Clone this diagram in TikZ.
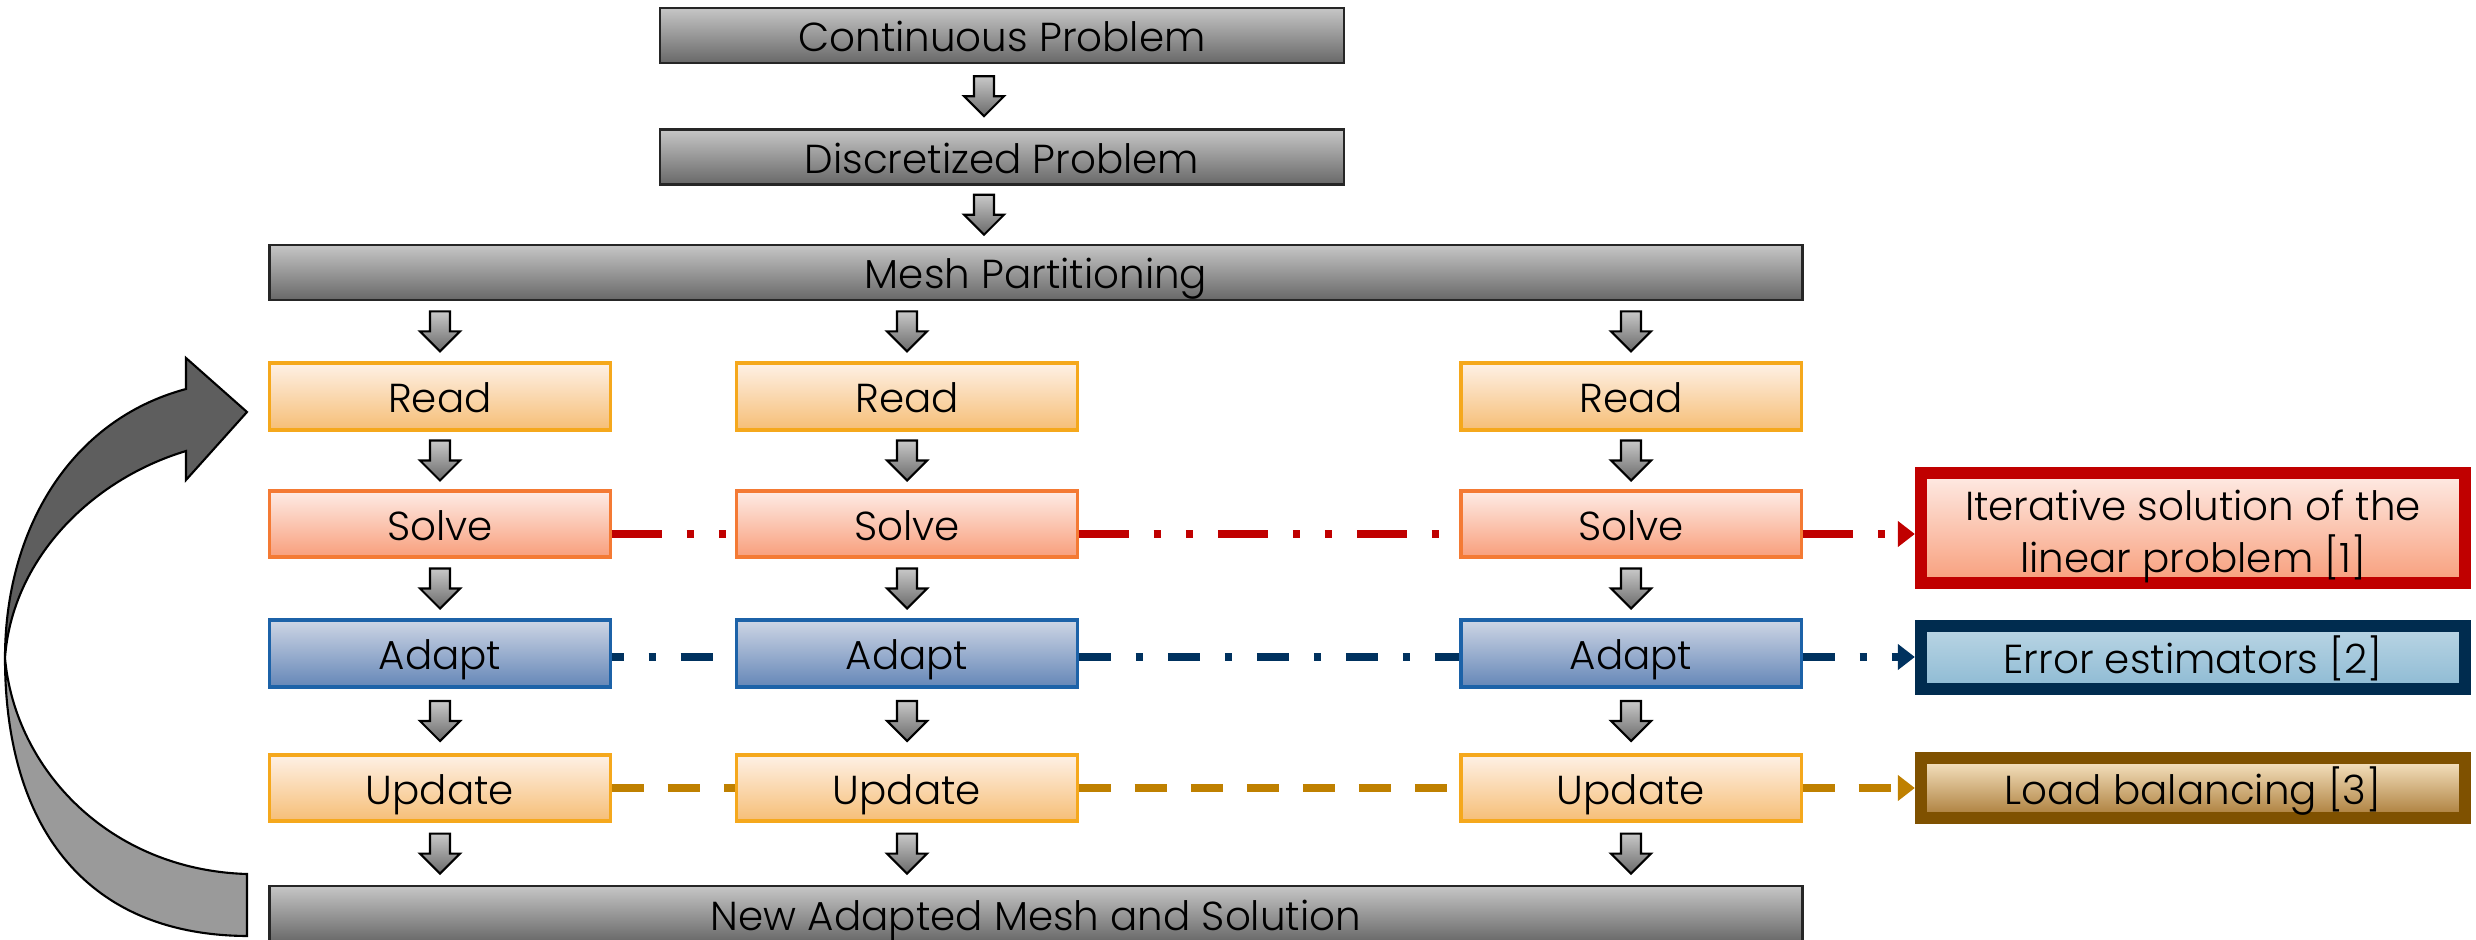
\documentclass[tikz,border=0pt]{standalone}
\usepackage{fontspec}
\setmainfont{Poppins Light}
\usetikzlibrary{arrows.meta,calc}
\definecolor{gT}{HTML}{C6C6C6}
\definecolor{gB}{HTML}{686868}
\definecolor{aT}{HTML}{C8C8C8}
\definecolor{aB}{HTML}{6A6A6A}
\definecolor{oT}{HTML}{FEF1E6}
\definecolor{oB}{HTML}{F6BE76}
\definecolor{oD}{HTML}{F5A81C}
\definecolor{rT}{HTML}{FEECE6}
\definecolor{rB}{HTML}{F89E7B}
\definecolor{rD}{HTML}{F47A34}
\definecolor{bT}{HTML}{CED6E5}
\definecolor{bB}{HTML}{6486B7}
\definecolor{bD}{HTML}{1C62A8}
\definecolor{lnRed}{HTML}{C00000}
\definecolor{lnBlue}{HTML}{00325F}
\definecolor{lnGold}{HTML}{BF8000}
\definecolor{eT}{HTML}{BBD6E5}
\definecolor{eB}{HTML}{8DBAD3}
\definecolor{eD}{HTML}{002C4F}
\definecolor{ldT}{HTML}{FAE8C8}
\definecolor{ldB}{HTML}{A97A36}
\definecolor{ldD}{HTML}{7F5100}
\definecolor{cvDark}{HTML}{5E5E5E}
\definecolor{cvLight}{HTML}{9A9A9A}
\tikzset{
  darr/.pic={\draw[line width=0.6pt, top color=aT, bottom color=aB]
    (-10,-20) -- (10,-20) -- (10,0) -- (20,0) -- (0,20) -- (-20,0) -- (-10,0) -- cycle;}
}
\begin{document}
\begin{tikzpicture}[x=0.01cm,y=-0.01cm,
  txt/.style={font=\fontsize{11.5}{15}\selectfont, inner sep=0pt, text=black, align=center},
  one/.style={txt, text height=0.93em, text depth=0pt},
  gbox/.style={one, draw=black!85, line width=0.7pt, top color=gT, bottom color=gB, minimum height=0.55cm},
  obox/.style={one, draw=oD, line width=0.9pt, top color=oT, bottom color=oB, minimum width=3.4cm, minimum height=0.67cm},
  sbox/.style={one, draw=rD, line width=0.9pt, top color=rT, bottom color=rB, minimum width=3.4cm, minimum height=0.66cm},
  abox/.style={one, draw=bD, line width=0.9pt, top color=bT, bottom color=bB, minimum width=3.4cm, minimum height=0.67cm},
  rbox/.style={line width=0.12cm, minimum width=5.44cm},
  conn/.style={line width=0.08cm},
  redln/.style={conn, draw=lnRed, dash pattern=on 0.5cm off 0.25cm on 0.07cm off 0.25cm on 0.07cm off 0.25cm},
  blueln/.style={conn, draw=lnBlue, dash pattern=on 0.32cm off 0.25cm on 0.07cm off 0.25cm},
  goldln/.style={conn, draw=lnGold, dash pattern=on 0.32cm off 0.24cm},
  tip/.style={-{Triangle[length=0.17cm,width=0.25cm]}}
]
\useasboundingbox (0,0) rectangle (2476,940);

% curved feedback arrow
\draw[fill=cvLight, line width=0.6pt] (5,658) .. controls (5,820) and (80,935) .. (247,936)
  -- (247,874) .. controls (110,870) and (15,770) .. (5,658) -- cycle;
\draw[fill=cvDark, line width=0.6pt] (186,389) -- (186,358) -- (247,412) -- (186,480) -- (186,451)
  .. controls (90,480) and (12,560) .. (5,658)
  .. controls (5,530) and (70,420) .. (186,389) -- cycle;

% top chain
\node[gbox, minimum width=6.84cm] (cp) at (1002,35.5) {Continuous Problem};
\node[gbox, minimum width=6.84cm] (dp) at (1002,157) {Discretized Problem};
\node[gbox, minimum width=15.32cm] (mp) at (1036,272.5) {Mesh Partitioning};
\node[gbox, minimum width=15.32cm, minimum height=0.56cm] (nm) at (1036,914) {New Adapted Mesh and Solution};

% columns
\foreach \c/\x in {1/440,2/907,3/1631}{
  \node[obox] (r\c) at (\x,396.5) {Read};
  \node[sbox] (s\c) at (\x,524) {Solve};
  \node[abox] (a\c) at (\x,653.5) {Adapt};
  \node[obox, minimum height=0.66cm] (u\c) at (\x,788) {Update};
}

% right boxes
\node[txt, text height=28pt, text depth=2.5pt, rbox, draw=lnRed, top color=rT, bottom color=rB, minimum height=1.1cm] (it) at (2193,528) {Iterative solution of the\\linear problem [1]};
\node[one, rbox, draw=eD, top color=eT, bottom color=eB, minimum height=0.63cm] (er) at (2193,657.5) {Error estimators [2]};
\node[one, rbox, draw=ldD, top color=ldT, bottom color=ldB, minimum height=0.60cm] (lb) at (2193,788) {Load balancing [3]};

% block arrows between boxes
\path ([xshift=-0.18cm]cp.south) -- coordinate[midway] (m0) ([xshift=-0.18cm]dp.north);
\pic at (m0) {darr};
\path ([xshift=-0.18cm]dp.south) -- coordinate[midway] (m1) ([xshift=-0.18cm]dp.south |- mp.north);
\pic at (m1) {darr};
\foreach \c in {1,2,3}{
  \path (mp.south -| r\c.north) -- coordinate[midway] (ma\c) (r\c.north);
  \pic at (ma\c) {darr};
  \path (r\c.south) -- coordinate[midway] (mb\c) (s\c.north);
  \pic at (mb\c) {darr};
  \path (s\c.south) -- coordinate[midway] (mc\c) (a\c.north);
  \pic at (mc\c) {darr};
  \path (a\c.south) -- coordinate[midway] (md\c) (u\c.north);
  \pic at (md\c) {darr};
  \path (u\c.south) -- coordinate[midway] (me\c) (nm.north -| u\c.south);
  \pic at (me\c) {darr};
}

% dashed connectors
\foreach \c in {1,2,3}{
  \coordinate (sr\c) at ([yshift=-0.1cm]s\c.east);
  \coordinate (sl\c) at ([yshift=-0.1cm]s\c.west);
  \coordinate (ar\c) at ([yshift=-0.035cm]a\c.east);
  \coordinate (al\c) at ([yshift=-0.035cm]a\c.west);
}
\draw[redln] (sr1) -- (sl2);
\draw[redln] (sr2) -- (sl3);
\draw[redln, tip] (sr3) -- (sr3 -| it.west);
\draw[blueln, dash phase=0.2cm] (ar1) -- (al2);
\draw[blueln] (ar2) -- (al3);
\draw[blueln, tip] (ar3) -- (ar3 -| er.west);
\draw[goldln] (u1.east) -- (u2.west);
\draw[goldln] (u2.east) -- (u3.west);
\draw[goldln, tip] (u3.east) -- (u3.east -| lb.west);
\end{tikzpicture}
\end{document}
